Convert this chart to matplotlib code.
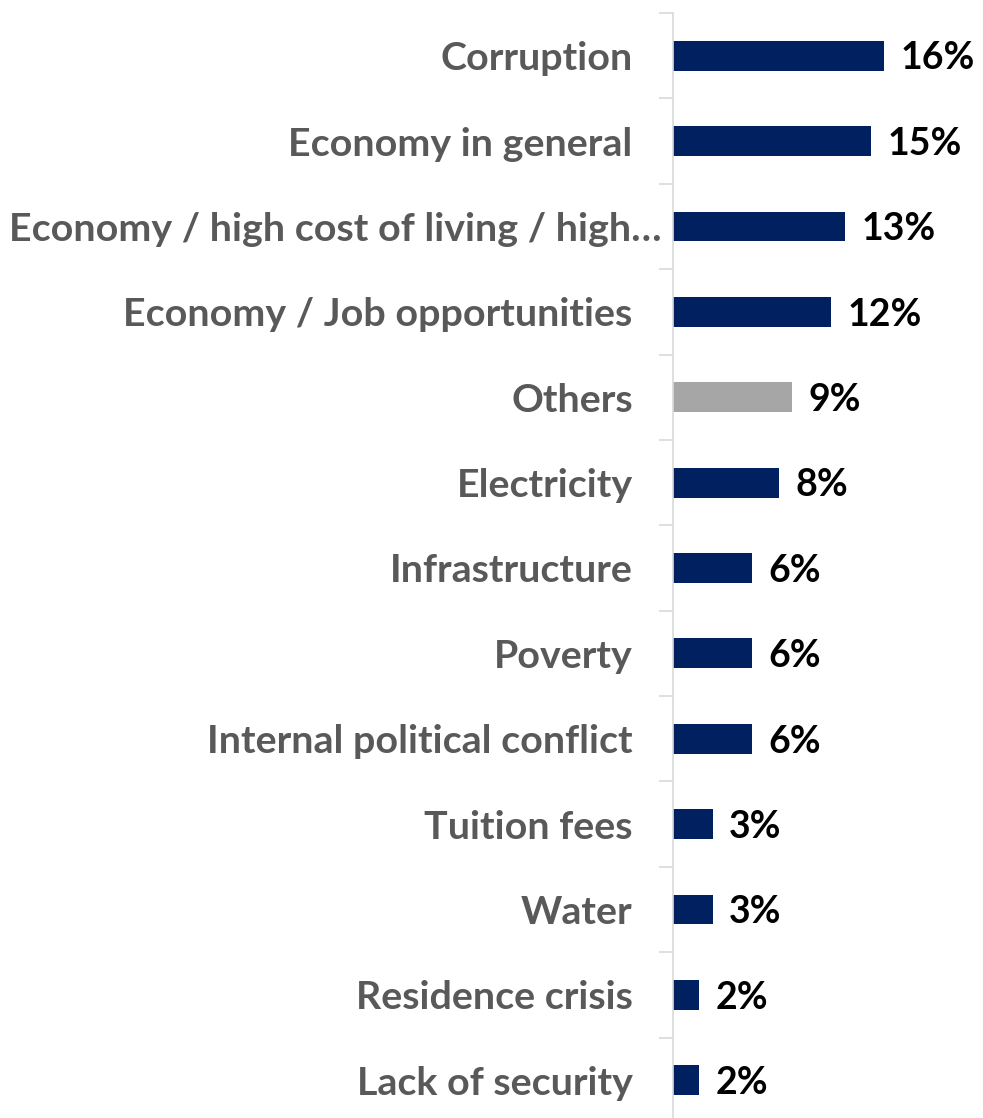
import matplotlib.pyplot as plt

categories = [
    "Corruption", "Economy in general", "Economy / high cost of living / high\u2026",
    "Economy / Job opportunities", "Others", "Electricity", "Infrastructure",
    "Poverty", "Internal political conflict", "Tuition fees", "Water",
    "Residence crisis", "Lack of security",
]
values = [16, 15, 13, 12, 9, 8, 6, 6, 6, 3, 3, 2, 2]
bar_colors = ["#002060"] * 4 + ["#A6A6A6"] + ["#002060"] * 8

plt.rcParams["font.family"] = ["Lato", "DejaVu Sans"]

fig = plt.figure(figsize=(9.83, 11.18), dpi=100)
# axes in pixels: left edge at the axis line, rows span past the bottom edge
W, H = 983, 1118
left, top, bottom = 673, 13, 1123
ax = fig.add_axes([left / W, 1 - bottom / H, 1 - left / W, (bottom - top) / H])

y = list(range(len(categories)))
ax.barh(y, values, height=0.35, color=bar_colors)
ax.set_ylim(len(categories) - 0.5, -0.5)
ax.set_xlim(0, (W - left) / 13.2)

for yi, v in zip(y, values):
    ax.annotate(f"{v}%", (v, yi), xytext=(12, -2), textcoords="offset points",
                va="center", ha="left", fontsize=27, fontweight="bold", color="black")

ax.set_yticks(y)
ax.set_yticklabels(categories, fontsize=28.4, fontweight="bold", color="#595959")
ax.set_yticks([i + 0.5 for i in range(-1, len(categories))], minor=True)
ax.tick_params(axis="y", which="major", length=0, pad=29)
ax.tick_params(axis="y", which="minor", length=10, width=1.2, color="#D9D9D9")
ax.yaxis.get_major_ticks()[2].set_pad(8)
ax.set_xticks([])

for s in ["top", "right", "bottom"]:
    ax.spines[s].set_visible(False)
ax.spines["left"].set_color("#D9D9D9")
ax.spines["left"].set_linewidth(1.2)

fig.savefig("out.png", dpi=100)
